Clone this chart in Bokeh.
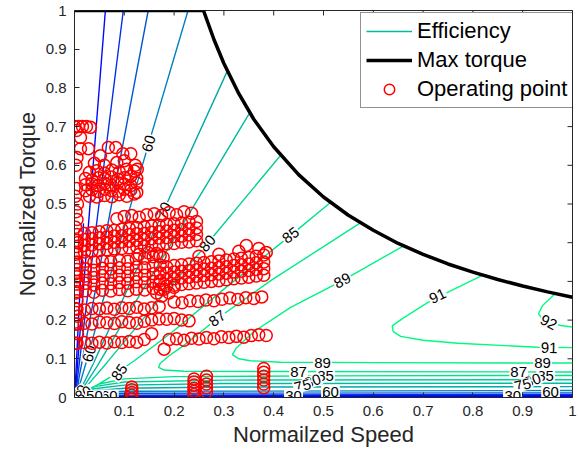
from bokeh.plotting import figure
from bokeh.models import (ColumnDataSource, FixedTicker, NumeralTickFormatter,
                          Legend, LegendItem, Range1d)
from bokeh.core.properties import value
from bokeh.embed import file_html
from bokeh.resources import INLINE

FONT = "Liberation Sans"
AX = "#262626"

# ---------------- data ----------------
x_ticks = [0.1, 0.2, 0.3, 0.4, 0.5, 0.6, 0.7, 0.8, 0.9, 1.0]
y_ticks = [0.0, 0.1, 0.2, 0.3, 0.4, 0.5, 0.6, 0.7, 0.8, 0.9, 1.0]

# max torque envelope
max_speed = [0.0, 0.259, 0.28, 0.3, 0.33, 0.36, 0.4, 0.45, 0.5, 0.55, 0.6, 0.65, 0.7, 0.75, 0.8, 0.85, 0.9, 0.95, 1.0]
max_torque = [1.0, 1.0, 0.925, 0.863, 0.785, 0.719, 0.648, 0.576, 0.518, 0.471, 0.432, 0.398, 0.37, 0.345, 0.324, 0.305, 0.288, 0.273, 0.259]

# efficiency contour lines (level -> polyline)
levels = [20, 30, 40, 50, 60, 70, 75, 80, 85, 87, 89, 91, 92]
eff20_speed = [0.018, 0.008, 0.002, 0.001, 0.03, 1.0]
eff20_torque = [0.45, 0.2, 0.04, 0.001, 0.002, 0.002]
eff30_speed = [0.062, 0.016, 0.004, 0.002, 0.03, 1.0]
eff30_torque = [1.0, 0.25, 0.05, 0.002, 0.004, 0.005]
eff40_speed = [0.098, 0.025, 0.006, 0.003, 0.03, 1.0]
eff40_torque = [1.0, 0.25, 0.05, 0.003, 0.006, 0.008]
eff50_speed = [0.148, 0.038, 0.009, 0.004, 0.03, 0.1, 1.0]
eff50_torque = [1.0, 0.25, 0.05, 0.004, 0.009, 0.011, 0.012]
eff60_speed = [0.228, 0.149, 0.057, 0.03, 0.012, 0.005, 0.03, 0.1, 1.0]
eff60_torque = [1.0, 0.656, 0.25, 0.12, 0.04, 0.006, 0.012, 0.016, 0.018]
eff70_speed = [0.307, 0.179, 0.085, 0.035, 0.012, 0.006, 0.03, 0.1, 0.3, 1.0]
eff70_torque = [0.844, 0.483, 0.22, 0.08, 0.02, 0.008, 0.016, 0.024, 0.027, 0.028]
eff75_speed = [0.352, 0.2, 0.1, 0.045, 0.016, 0.008, 0.035, 0.1, 0.3, 1.0]
eff75_torque = [0.736, 0.41, 0.2, 0.08, 0.022, 0.01, 0.022, 0.032, 0.036, 0.037]
eff80_speed = [0.414, 0.267, 0.15, 0.065, 0.025, 0.012, 0.04, 0.1, 0.3, 1.0]
eff80_torque = [0.626, 0.398, 0.222, 0.09, 0.03, 0.013, 0.028, 0.04, 0.045, 0.046]
eff85_speed = [0.514, 0.434, 0.3, 0.197, 0.12, 0.075, 0.04, 0.02, 0.05, 0.1, 0.2, 0.5, 1.0]
eff85_torque = [0.504, 0.419, 0.28, 0.17, 0.095, 0.055, 0.028, 0.015, 0.035, 0.048, 0.054, 0.056, 0.057]
eff87_speed = [0.574, 0.394, 0.287, 0.219, 0.19, 0.172, 0.169, 0.18, 0.22, 0.4, 1.0]
eff87_torque = [0.451, 0.302, 0.204, 0.134, 0.108, 0.088, 0.078, 0.071, 0.068, 0.067, 0.066]
eff89_speed = [0.661, 0.538, 0.434, 0.36, 0.325, 0.317, 0.33, 0.353, 0.414, 0.6, 1.0]
eff89_torque = [0.392, 0.302, 0.233, 0.17, 0.128, 0.111, 0.1, 0.095, 0.091, 0.09, 0.089]
eff91_speed = [0.82, 0.75, 0.709, 0.66, 0.638, 0.64, 0.655, 0.7, 0.77, 0.93, 1.0]
eff91_torque = [0.316, 0.272, 0.245, 0.205, 0.185, 0.17, 0.158, 0.148, 0.14, 0.13, 0.129]
eff92_speed = [0.965, 0.94, 0.932, 0.94, 0.976, 1.0]
eff92_torque = [0.268, 0.238, 0.217, 0.2, 0.186, 0.182]

# contour labels
label_text = ["60", "70", "80", "85", "87", "89", "91", "92", "91",
              "89", "89", "87", "87", "85", "85", "80", "80", "75", "75",
              "60", "60", "50", "40", "30", "50", "40", "30",
              "60", "60", "85", "70", "80", "50"]
label_speed = [0.149, 0.179, 0.267, 0.434, 0.287, 0.538, 0.729, 0.952, 0.953,
               0.498, 0.94, 0.45, 0.892, 0.504, 0.946, 0.478, 0.92, 0.458, 0.9,
               0.514, 0.956, 0.44, 0.44, 0.44, 0.88, 0.88, 0.88,
               0.07, 0.03, 0.09, 0.008, 0.018, 0.04]
label_torque = [0.656, 0.483, 0.398, 0.419, 0.204, 0.302, 0.262, 0.194, 0.128,
                0.089, 0.089, 0.066, 0.066, 0.055, 0.056, 0.042, 0.044, 0.03, 0.032,
                0.014, 0.014, 0.006, 0.005, 0.004, 0.006, 0.005, 0.004,
                0.005, 0.113, 0.065, 0.012, 0.01, 0.003]
label_angle = [73.7, 64.8, 49.0, 37.0, 36.0, 27.6, 25.5, -27.0, -1.0,
               0, 0, 0, 0, 0, 0, 20, 20, 15, 15,
               0, 0, 0, 0, 0, 0, 0, 0,
               0, 75, 55, 40, 30, 0]

# operating points (strands of the drive cycle)
edge_speed = [0.002, 0.006, 0.003, 0.007, 0.002, 0.005, 0.003, 0.006, 0.002, 0.005,
              0.003, 0.006, 0.002, 0.005, 0.003, 0.006, 0.002, 0.004, 0.003, 0.005]
edge_torque = [0.14, 0.165, 0.19, 0.21, 0.23, 0.25, 0.27, 0.30, 0.32, 0.35,
               0.37, 0.40, 0.44, 0.46, 0.48, 0.50, 0.52, 0.54, 0.60, 0.62]
high_speed = [0.0, 0.008, 0.016, 0.024, 0.032, 0.004, 0.012, 0.012, 0.028, 0.052,
              0.068, 0.083, 0.097, 0.113, 0.04, 0.06, 0.085, 0.1, 0.122, 0.126]
high_torque = [0.70, 0.70, 0.70, 0.70, 0.698, 0.69, 0.672, 0.643, 0.643, 0.625,
               0.646, 0.646, 0.63, 0.63, 0.605, 0.6, 0.607, 0.612, 0.6, 0.59]
c_speed = [0.03, 0.045, 0.06, 0.075, 0.09, 0.105, 0.12,
           0.022, 0.035, 0.048, 0.061, 0.074, 0.087, 0.1, 0.113, 0.125,
           0.022, 0.035, 0.048, 0.061, 0.074, 0.087, 0.1, 0.113, 0.125,
           0.022, 0.035, 0.048, 0.061, 0.074, 0.087, 0.1, 0.113, 0.125,
           0.03, 0.045, 0.06, 0.075, 0.09, 0.105, 0.12]
c_torque = [0.582, 0.586, 0.58, 0.588, 0.583, 0.59, 0.585,
            0.566, 0.562, 0.568, 0.565, 0.57, 0.564, 0.568, 0.572, 0.566,
            0.55, 0.552, 0.548, 0.553, 0.549, 0.555, 0.551, 0.548, 0.554,
            0.534, 0.537, 0.532, 0.538, 0.535, 0.533, 0.538, 0.536, 0.53,
            0.52, 0.518, 0.522, 0.519, 0.524, 0.52, 0.526]
d_speed = [0.005, 0.02, 0.035, 0.05, 0.065, 0.08, 0.095, 0.11, 0.125, 0.14, 0.155, 0.17, 0.185, 0.2, 0.215, 0.23, 0.245,
           0.005, 0.02, 0.035, 0.05, 0.065, 0.08, 0.095, 0.11, 0.125, 0.14, 0.155, 0.17, 0.185, 0.2, 0.215, 0.23, 0.245,
           0.005, 0.02, 0.035, 0.05, 0.065, 0.08, 0.095, 0.11, 0.125, 0.14, 0.155, 0.17, 0.185, 0.2, 0.215, 0.23, 0.245,
           0.005, 0.02, 0.035, 0.05, 0.065, 0.08, 0.095, 0.11, 0.125, 0.14, 0.155, 0.17, 0.185, 0.2, 0.215, 0.23, 0.245,
           0.085, 0.1, 0.115, 0.13, 0.145, 0.16, 0.175, 0.19, 0.205, 0.22, 0.235]
d_torque = [0.374, 0.376, 0.378, 0.379, 0.382, 0.384, 0.385, 0.387, 0.389, 0.391, 0.393, 0.394, 0.397, 0.398, 0.401, 0.402, 0.405,
            0.39, 0.393, 0.394, 0.397, 0.398, 0.401, 0.402, 0.404, 0.406, 0.408, 0.41, 0.412, 0.413, 0.416, 0.417, 0.42, 0.421,
            0.406, 0.408, 0.41, 0.413, 0.415, 0.417, 0.418, 0.421, 0.423, 0.424, 0.427, 0.428, 0.43, 0.432, 0.434, 0.436, 0.438,
            0.421, 0.424, 0.426, 0.428, 0.431, 0.432, 0.435, 0.437, 0.439, 0.441, 0.443, 0.445, 0.447, 0.449, 0.451, 0.453, 0.455,
            0.462, 0.468, 0.47, 0.466, 0.472, 0.475, 0.47, 0.478, 0.472, 0.48, 0.476]
e_speed = [0.005, 0.022, 0.039, 0.056, 0.073, 0.09, 0.107, 0.124, 0.141, 0.158, 0.172,
           0.005, 0.022, 0.039, 0.056, 0.073, 0.09, 0.107, 0.124, 0.141, 0.158, 0.172,
           0.005, 0.022, 0.039, 0.056, 0.073, 0.09, 0.107, 0.124, 0.141, 0.158, 0.172,
           0.005, 0.022, 0.039, 0.056, 0.073, 0.09, 0.107, 0.124, 0.141, 0.158, 0.172,
           0.005, 0.022, 0.039, 0.056, 0.073, 0.09, 0.107, 0.124, 0.141, 0.158, 0.172,
           0.13, 0.148, 0.165, 0.178]
e_torque = [0.274, 0.276, 0.272, 0.277, 0.275, 0.279, 0.276, 0.28, 0.278, 0.282, 0.28,
            0.293, 0.295, 0.291, 0.296, 0.294, 0.297, 0.295, 0.299, 0.297, 0.3, 0.302,
            0.312, 0.314, 0.31, 0.315, 0.313, 0.316, 0.314, 0.318, 0.316, 0.32, 0.322,
            0.331, 0.333, 0.329, 0.334, 0.332, 0.335, 0.333, 0.337, 0.335, 0.34, 0.342,
            0.348, 0.352, 0.35, 0.353, 0.351, 0.354, 0.352, 0.358, 0.36, 0.364, 0.366,
            0.37, 0.374, 0.372, 0.362]
f_speed = [0.185, 0.2, 0.215, 0.23, 0.245, 0.26, 0.275, 0.29, 0.305, 0.32, 0.335, 0.35, 0.365, 0.38,
           0.185, 0.2, 0.215, 0.23, 0.245, 0.26, 0.275, 0.29, 0.305, 0.32, 0.335, 0.35, 0.365, 0.38,
           0.185, 0.2, 0.215, 0.23, 0.245, 0.26, 0.275, 0.29, 0.305, 0.32, 0.335, 0.35, 0.365, 0.38,
           0.185, 0.2, 0.215, 0.23, 0.245, 0.26, 0.275, 0.29, 0.305, 0.32, 0.335, 0.35, 0.365, 0.38,
           0.25, 0.29, 0.33, 0.345, 0.37, 0.385,
           0.165, 0.175, 0.18, 0.19, 0.2, 0.17]
f_torque = [0.288, 0.29, 0.292, 0.294, 0.296, 0.298, 0.3, 0.302, 0.304, 0.307, 0.309, 0.311, 0.314, 0.316,
            0.305, 0.307, 0.309, 0.311, 0.313, 0.315, 0.317, 0.319, 0.321, 0.324, 0.326, 0.328, 0.331, 0.333,
            0.322, 0.324, 0.326, 0.328, 0.33, 0.332, 0.334, 0.336, 0.338, 0.341, 0.343, 0.345, 0.348, 0.35,
            0.338, 0.341, 0.343, 0.345, 0.347, 0.349, 0.351, 0.353, 0.355, 0.358, 0.36, 0.362, 0.365, 0.368,
            0.365, 0.37, 0.378, 0.393, 0.385, 0.375,
            0.27, 0.262, 0.28, 0.27, 0.285, 0.292]
g_speed = [0.2, 0.216, 0.232, 0.248, 0.264, 0.28, 0.296, 0.312, 0.328, 0.344, 0.36, 0.376]
g_torque = [0.247, 0.245, 0.25, 0.248, 0.252, 0.25, 0.254, 0.257, 0.253, 0.258, 0.256, 0.26]
h_speed = [0.005, 0.02, 0.035, 0.05, 0.065, 0.08, 0.095, 0.11, 0.125, 0.14, 0.155, 0.17]
h_torque = [0.228, 0.226, 0.23, 0.229, 0.231, 0.228, 0.232, 0.23, 0.233, 0.229, 0.232, 0.235]
i_speed = [0.005, 0.02, 0.035, 0.05, 0.065, 0.08, 0.095, 0.11, 0.125, 0.14, 0.155, 0.17, 0.185, 0.2, 0.215, 0.23]
i_torque = [0.19, 0.192, 0.19, 0.195, 0.193, 0.191, 0.196, 0.194, 0.192, 0.197, 0.2, 0.203, 0.202, 0.204, 0.2, 0.198]
j_speed = [0.005, 0.02, 0.035, 0.05, 0.065, 0.08, 0.095, 0.11, 0.125, 0.14, 0.155]
j_torque = [0.14, 0.142, 0.14, 0.143, 0.141, 0.144, 0.142, 0.145, 0.143, 0.15, 0.165]
k_speed = [0.18, 0.19, 0.205, 0.22, 0.235, 0.25, 0.265, 0.28, 0.295, 0.31, 0.325, 0.34, 0.355, 0.37, 0.385]
k_torque = [0.125, 0.15, 0.152, 0.148, 0.153, 0.151, 0.155, 0.152, 0.157, 0.155, 0.158, 0.156, 0.16, 0.162, 0.16]
low_speed = [0.115, 0.115, 0.115, 0.115,
             0.24, 0.24, 0.24, 0.24, 0.24, 0.24,
             0.265, 0.265, 0.265, 0.265, 0.265,
             0.38, 0.38, 0.38, 0.38, 0.38, 0.38]
low_torque = [0.006, 0.013, 0.02, 0.027,
              0.008, 0.016, 0.024, 0.032, 0.04, 0.048,
              0.015, 0.025, 0.035, 0.045, 0.055,
              0.025, 0.035, 0.045, 0.055, 0.065, 0.075]

# ---------------- build sources ----------------
contour_speed = [eff20_speed, eff30_speed, eff40_speed, eff50_speed, eff60_speed, eff70_speed, eff75_speed,
                 eff80_speed, eff85_speed, eff87_speed, eff89_speed, eff91_speed, eff92_speed]
contour_torque = [eff20_torque, eff30_torque, eff40_torque, eff50_torque, eff60_torque, eff70_torque, eff75_torque,
                  eff80_torque, eff85_torque, eff87_torque, eff89_torque, eff91_torque, eff92_torque]


def winter(level, lo=28.0, hi=92.0):
    t = min(1.0, max(0.0, (level - lo) / (hi - lo)))
    g = int(round(255 * t))
    b = int(round(255 * (1 - 0.5 * t)))
    return "#%02x%02x%02x" % (0, g, b)


contour_src = ColumnDataSource(dict(xs=contour_speed, ys=contour_torque,
                                    color=[winter(l) for l in levels]))
label_src = ColumnDataSource(dict(x=label_speed, y=label_torque, text=label_text, angle=label_angle))
op_speed = edge_speed + high_speed + c_speed + d_speed + e_speed + f_speed + g_speed + h_speed + i_speed + j_speed + k_speed + low_speed
op_torque = edge_torque + high_torque + c_torque + d_torque + e_torque + f_torque + g_torque + h_torque + i_torque + j_torque + k_torque + low_torque
op_src = ColumnDataSource(dict(x=op_speed, y=op_torque))
max_src = ColumnDataSource(dict(x=max_speed, y=max_torque))

# ---------------- figure ----------------
p = figure(width=580, height=453, x_range=Range1d(0, 1), y_range=Range1d(0, 1),
           output_backend="svg", toolbar_location=None,
           min_border_left=74, min_border_right=8, min_border_top=10, min_border_bottom=56,
           x_axis_label="Normailzed Speed", y_axis_label="Normalized Torque")
p.grid.visible = False
p.outline_line_color = AX
p.outline_line_width = 1

contour_r = p.multi_line(xs="xs", ys="ys", line_color="color", line_width=1.4, source=contour_src)
p.text(x="x", y="y", text="text", angle="angle", angle_units="deg", source=label_src,
       text_font=value(FONT), text_font_size=value("15px"), text_color="black",
       text_align="center", text_baseline="middle",
       background_fill_color="white", padding=1)
max_r = p.line(x="x", y="y", line_color="black", line_width=3.5, source=max_src)
op_r = p.scatter(x="x", y="y", marker="circle", size=12, fill_color=None,
                 line_color="#ff0000", line_width=1.5, source=op_src)

# tick marks on the top and right edges of the box (clipped to the frame: they point inward)
p.scatter(x=x_ticks, y=[1.0] * len(x_ticks), marker="dash", angle=90, angle_units="deg",
          size=10, line_color=AX, line_width=1)
p.scatter(x=[1.0] * len(y_ticks), y=y_ticks, marker="dash", size=10, line_color=AX, line_width=1)

for ax, ticks in ((p.xaxis[0], x_ticks), (p.yaxis[0], y_ticks)):
    ax.ticker = FixedTicker(ticks=ticks)
    ax.formatter = NumeralTickFormatter(format="0.[0]")
    ax.major_tick_in = 5
    ax.major_tick_out = 0
    ax.minor_tick_in = 0
    ax.minor_tick_out = 0
    ax.axis_line_color = AX
    ax.major_tick_line_color = AX
    ax.major_label_text_font = FONT
    ax.major_label_text_font_size = "15px"
    ax.major_label_text_color = AX
    ax.major_label_standoff = 8
    ax.axis_label_text_font = FONT
    ax.axis_label_text_font_size = "22px"
    ax.axis_label_text_font_style = "normal"
    ax.axis_label_text_color = AX
    ax.axis_label_standoff = 3

legend = Legend(items=[LegendItem(label="Efficiency", renderers=[contour_r], index=6),
                       LegendItem(label="Max torque", renderers=[max_r]),
                       LegendItem(label="Operating point", renderers=[op_r])],
                location=(286, 289), margin=0,
                label_text_font=FONT, label_text_font_size="22px", label_text_color="black",
                glyph_width=46, glyph_height=26, label_height=26, label_standoff=5,
                spacing=3, padding=5,
                border_line_color=AX, border_line_width=1,
                background_fill_color="white", background_fill_alpha=1.0)
p.add_layout(legend)

open("out.html", "w").write(file_html(p, INLINE))
